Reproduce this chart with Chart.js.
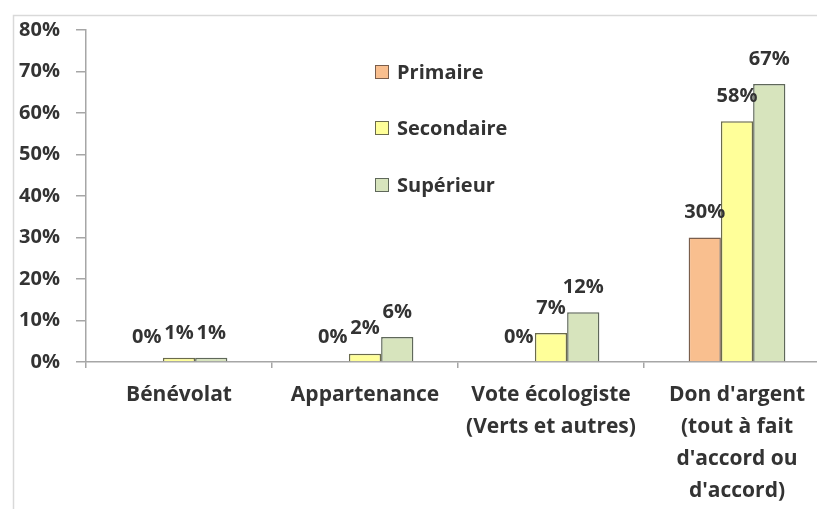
<!DOCTYPE html>
<html>
<head>
<meta charset="utf-8">
<script src="https://cdn.jsdelivr.net/npm/chart.js@4"></script>
<style>
  html, body { margin: 0; padding: 0; background: #fff; overflow: hidden; }
  #wrap { width: 830px; height: 509px; }
</style>
</head>
<body>
<div id="wrap"><canvas id="chart" width="830" height="509"></canvas></div>
<script>
const categories = [
  ["Bénévolat"],
  ["Appartenance"],
  ["Vote écologiste", "(Verts et autres)"],
  ["Don d'argent", "(tout à fait", "d'accord ou", "d'accord)"],
];
const seriesNames = ["Primaire", "Secondaire", "Supérieur"];
const primaire = [0, 0, 0, 30];
const secondaire = [1, 2, 7, 58];
const superieur = [1, 6, 12, 67];
const yTicks = [0, 10, 20, 30, 40, 50, 60, 70, 80];

const fillColors = ["#F9BF8F", "#FFFF99", "#D7E4BD"];
const borderColors = ["#7a5e4c", "#6b6b4c", "#5f685a"];
const FONT = "'Open Sans', sans-serif";
const TEXT = "#333333";

// Frame, value labels and legend
const extras = {
  id: "extras",
  afterDraw(chart) {
    const ctx = chart.ctx;
    ctx.save();
    ctx.strokeStyle = "#d9d9d9";
    ctx.lineWidth = 1.5;
    ctx.strokeRect(13.5, 15.5, 900, 600);

    ctx.fillStyle = TEXT;
    ctx.font = "bold 20px " + FONT;
    ctx.textAlign = "center";
    ctx.textBaseline = "middle";
    chart.data.datasets.forEach((ds, i) => {
      chart.getDatasetMeta(i).data.forEach((bar, j) => {
        ctx.fillText(ds.data[j] + "%", bar.x, bar.y - 25);
      });
    });

    // legend inside plot
    ctx.textAlign = "left";
    const rows = [72, 128, 185];
    seriesNames.forEach((name, i) => {
      ctx.fillStyle = fillColors[i];
      ctx.fillRect(375, rows[i] - 7, 14, 14);
      ctx.strokeStyle = borderColors[i];
      ctx.lineWidth = 1;
      ctx.strokeRect(375.5, rows[i] - 6.5, 13, 13);
      ctx.fillStyle = TEXT;
      ctx.fillText(name, 397, rows[i] + 1);
    });
    ctx.restore();
  },
};

const series = [primaire, secondaire, superieur];

new Chart(document.getElementById("chart"), {
  type: "bar",
  data: {
    labels: categories,
    datasets: series.map((vals, i) => ({
      label: seriesNames[i],
      data: vals,
      backgroundColor: fillColors[i],
      borderColor: borderColors[i],
      borderWidth: 1.5,
      categoryPercentage: 0.52,
      barPercentage: 1,
    })),
  },
  options: {
    responsive: false,
    animation: false,
    layout: { padding: { top: 30, right: 0, left: 0, bottom: 0 } },
    plugins: { legend: { display: false }, tooltip: { enabled: false } },
    scales: {
      x: {
        grid: {
          offset: true,
          drawOnChartArea: false,
          tickLength: 6,
          color: "#a6a6a6",
          lineWidth: 1.5,
        },
        border: { color: "#a6a6a6", width: 1.5 },
        ticks: {
          color: TEXT,
          font: { family: FONT, size: 21, weight: "bold", lineHeight: 1.52 },
          padding: 11,
          maxRotation: 0,
          autoSkip: false,
        },
        afterFit: (s) => { s.height = 147; },
      },
      y: {
        min: 0,
        max: 80,
        afterBuildTicks: (s) => { s.ticks = yTicks.map((v) => ({ value: v })); },
        grid: {
          drawOnChartArea: false,
          tickLength: 10,
          color: "#a6a6a6",
          lineWidth: 1.5,
        },
        border: { color: "#a6a6a6", width: 1.5 },
        ticks: {
          color: TEXT,
          font: { family: FONT, size: 20, weight: "bold" },
          padding: 16,
          callback: (v) => v + "%",
        },
        afterFit: (s) => { s.width = 86; },
      },
    },
  },
  plugins: [extras],
});
</script>
</body>
</html>
